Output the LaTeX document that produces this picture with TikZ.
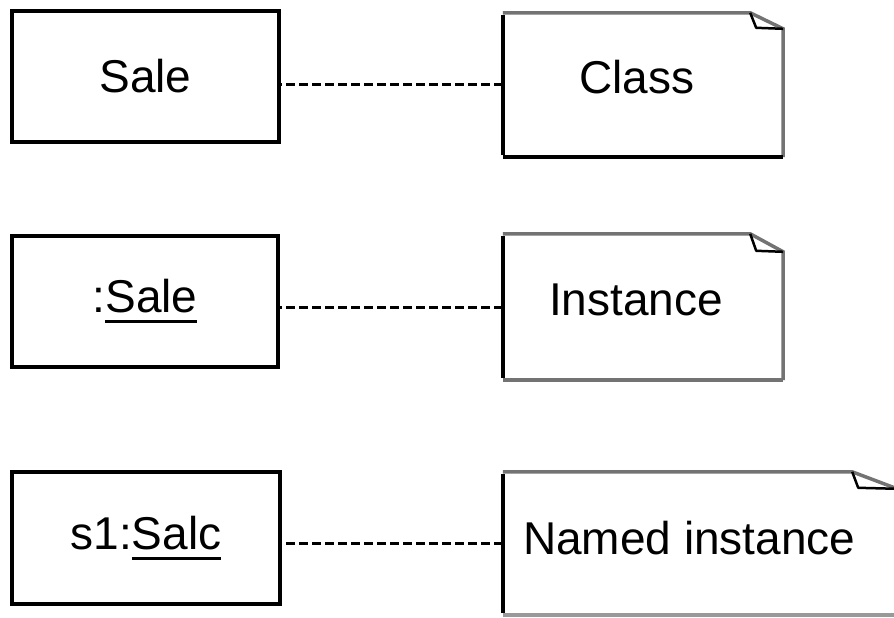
\documentclass[tikz,border=0pt]{standalone}
\usepackage{fontspec}
\setmainfont{Liberation Sans}
% class name with a heavy underline set a little below the baseline
\newcommand\classname[1]{\setbox0\hbox{#1}\rlap{\rule[-10.5bp]{\wd0}{3bp}}\box0}
% note outline: #1 node, #2 fold width, #3 fold height, #4 colour of the bottom edge
\newcommand\drawnote[4]{%
  \draw[noteedge] (#1.north west) -- ([xshift=-#2]#1.north east)
        -- ([yshift=-#3]#1.north east) -- (#1.south east);
  \draw[noteedge,#4] (#1.south east) -- (#1.south west);
  \draw[line width=4bp] ([yshift=2bp]#1.south west) -- ([yshift=-2bp]#1.north west);
  \draw[foldline] ([xshift=-#2]#1.north east) -- ([xshift=-#2+6bp,yshift=-#3+1bp]#1.north east)
        -- ([yshift=-#3]#1.north east);
}
\begin{document}
\begin{tikzpicture}[x=1bp,y=-1bp,
  lbl/.style={font=\fontsize{46bp}{52bp}\selectfont, inner sep=0pt},
  objbox/.style={draw, line width=4bp, inner sep=0pt, lbl},
  notearea/.style={inner sep=0pt, minimum width=280bp},
  noteedge/.style={line width=3.5bp, draw=black!55, line join=miter},
  foldline/.style={line width=2.5bp, line join=round},
  link/.style={line width=3bp, dash pattern=on 9bp off 4bp}]
\useasboundingbox (0,0) rectangle (894,618);

% objects on the left
\node[objbox, minimum width=267bp, minimum height=131bp] (b1) at (145.5,76.5) {Sale};
\node[objbox, minimum width=266bp, minimum height=131bp] (b2) at (145,301.5) {:\classname{Sale}};
\node[objbox, minimum width=268bp, minimum height=132bp] (b3) at (146,538) {s1:\classname{Salc}};

% notes on the right
\node[notearea, minimum height=144bp] (n1) at (643,85) {};
\node[notearea, minimum height=146bp] (n2) at (643,307) {};
\node[notearea, minimum width=394bp, minimum height=143bp] (n3) at (700,543.5) {};
\drawnote{n1}{33bp}{16bp}{black}
\drawnote{n2}{33bp}{18bp}{black!55}
\drawnote{n3}{45bp}{17bp}{black!40}

\node[lbl] (t1) at ([xshift=-6bp,yshift=8bp]n1.center) {Class};
\node[lbl] (t2) at ([xshift=-7bp,yshift=7bp]n2.center) {Instance};
\node[lbl, anchor=west] (t3) at ([xshift=20bp,yshift=5bp]n3.west) {Named instance};

% dashed links between each object and its note
\draw[link] (n1.west) -- (n1.west -| b1.east);
\draw[link] (n2.west) -- (n2.west -| b2.east);
\draw[link] (n3.west) -- (n3.west -| b3.east);
\end{tikzpicture}
\end{document}
